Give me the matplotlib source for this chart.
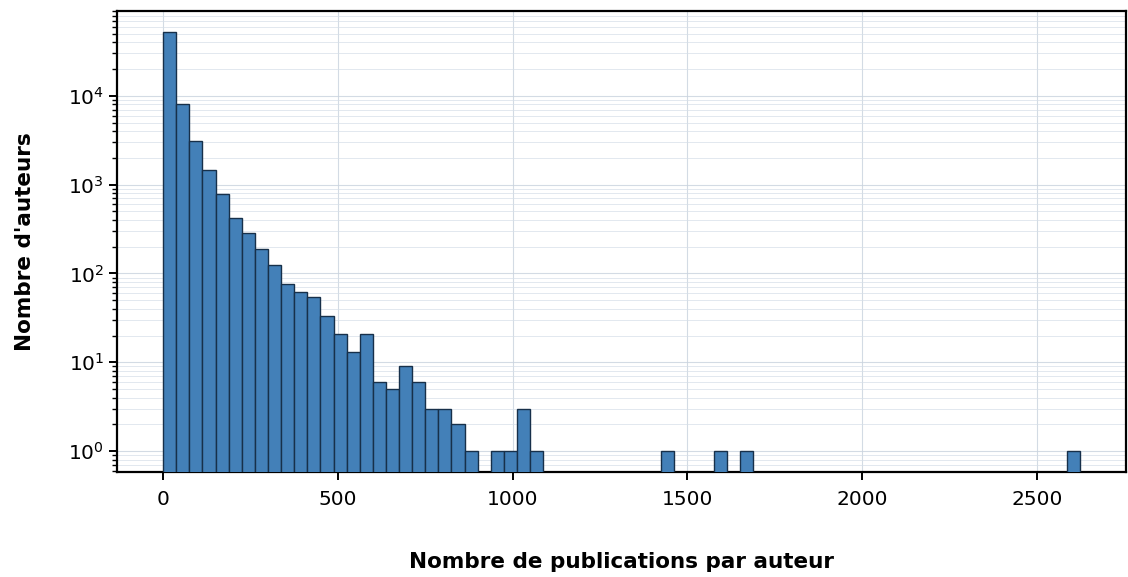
import matplotlib
matplotlib.use("Agg")
import matplotlib.pyplot as plt
import numpy as np

# Histogram of publications per author (70 equal-width bins)
pub_min = 0
pub_max = 2625
n_bins = 70

# Author count in each bin, bin index -> count (empty bins omitted)
bin_index = [0, 1, 2, 3, 4, 5, 6, 7, 8, 9, 10, 11, 12, 13, 14, 15, 16, 17, 18,
             19, 20, 21, 22, 23, 25, 26, 27, 28, 38, 42, 44, 69]
bin_count = [52500, 8100, 3100, 1480, 790, 425, 283, 187, 124, 77, 62, 55, 33,
             21, 13, 21, 6, 5, 9, 6, 3, 3, 2, 1, 1, 1, 3, 1, 1, 1, 1, 1]

counts = np.zeros(n_bins)
counts[bin_index] = bin_count
edges = np.linspace(pub_min, pub_max, n_bins + 1)

plt.rc("font", family="DejaVu Sans", size=14.5)

fig, ax = plt.subplots(figsize=(11.28, 5.77), dpi=100)
fig.subplots_adjust(left=0.104, right=0.9985, top=0.981, bottom=0.182)

ax.hist(edges[:-1], bins=edges, weights=counts, color="#4380b8",
        edgecolor="#17304a", linewidth=1.0, log=True, zorder=3)

ax.set_yscale("log")
ax.set_xticks([0, 500, 1000, 1500, 2000, 2500])

ax.grid(True, which="major", color="#c9d3de", linewidth=0.8, alpha=0.8, zorder=0)
ax.grid(True, which="minor", axis="y", color="#d5dee8", linewidth=0.7, alpha=0.7, zorder=0)

for spine in ax.spines.values():
    spine.set_linewidth(1.6)
ax.tick_params(which="major", length=6, width=1.4)
ax.tick_params(axis="x", which="major", pad=7)
ax.tick_params(which="minor", length=3.5, width=1.0)

ax.set_xlabel("Nombre de publications par auteur", fontweight="bold",
              fontsize=15.5, labelpad=31)
ax.set_ylabel("Nombre d'auteurs", fontweight="bold", fontsize=15.5, labelpad=24)

fig.savefig("out.png", dpi=100)
